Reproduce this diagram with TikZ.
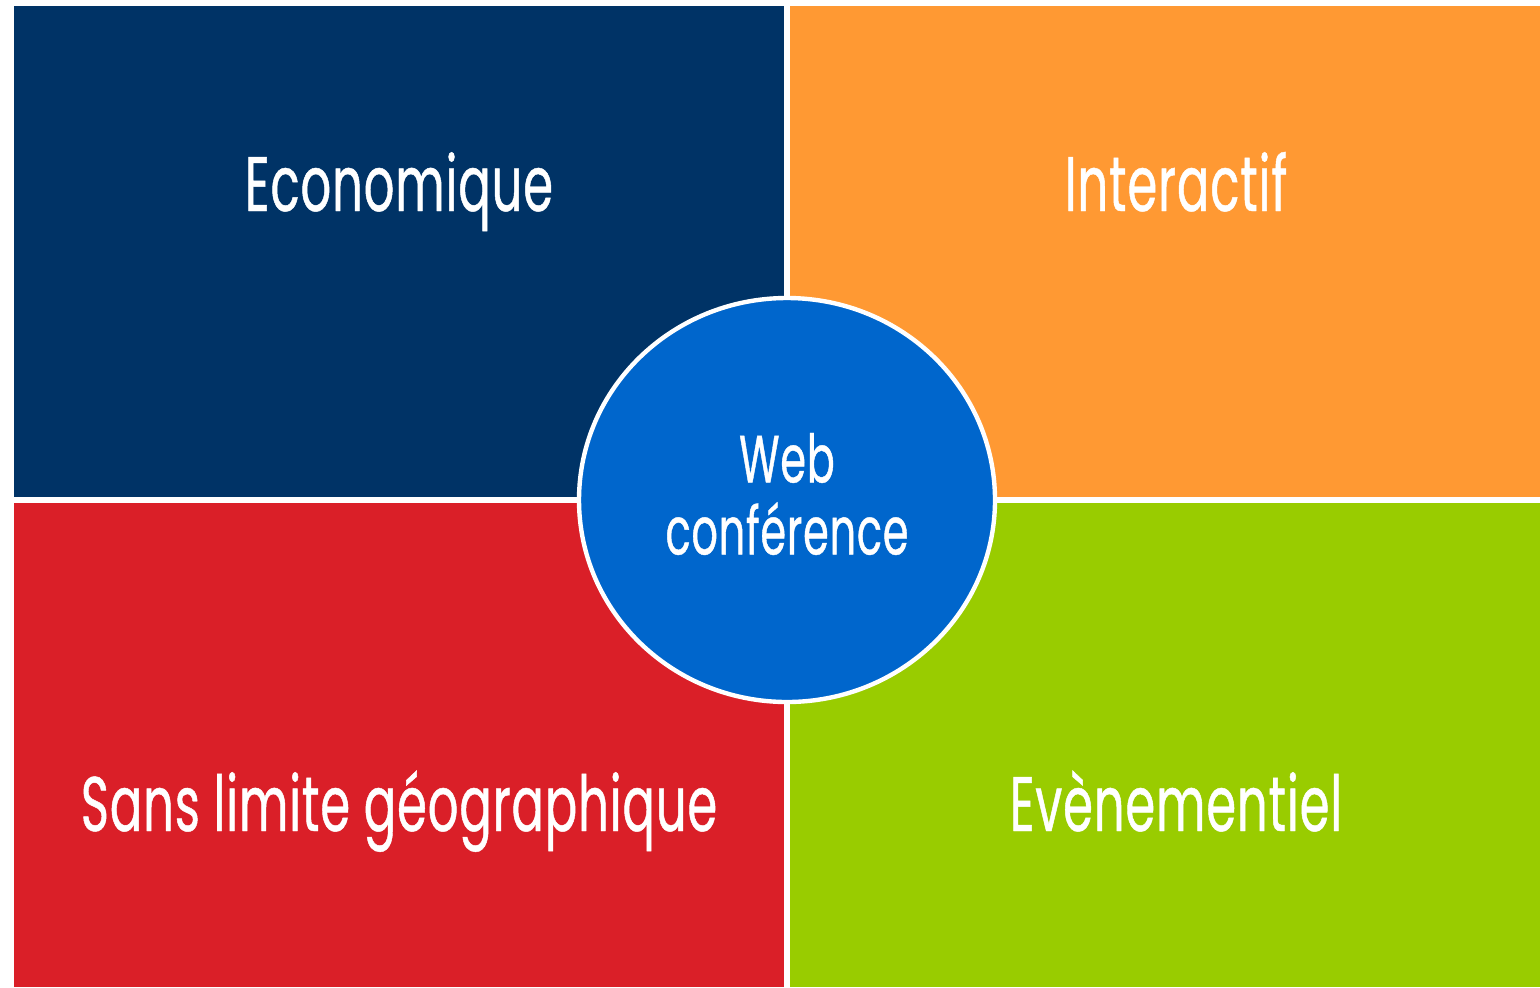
\documentclass[tikz,border=0pt]{standalone}
\usepackage{fontspec}
\usepackage{xcolor}
\setmainfont[FakeStretch=0.62,FakeBold=0.6,LetterSpace=1.2]{Poppins}

\definecolor{navy}{HTML}{003366}
\definecolor{orangeq}{HTML}{FF9933}
\definecolor{redq}{HTML}{DA1F28}
\definecolor{greenq}{HTML}{99CC00}
\definecolor{blueq}{HTML}{0066CC}

\begin{document}
\begin{tikzpicture}[x=0.02cm,y=-0.02cm]
\tikzset{quad/.style={white,font=\fontsize{44}{46}\selectfont,anchor=base}}
\useasboundingbox (0,0) rectangle (1540,987);
\fill[navy] (14,6) rectangle (784,497);
\fill[orangeq] (790,6) rectangle (1540,497);
\fill[redq] (14,503) rectangle (784,987);
\fill[greenq] (790,503) rectangle (1540,987);
\node[quad] (eco) at (399,211) {Economique};
\node[quad] (inter) at (1176,211) {Interactif};
\node[quad] (geo) at (399,831) {Sans limite géographique};
\node[quad] (event) at (1176,831) {Evènementiel};
\filldraw[fill=blueq,draw=white,line width=2.5pt] (787,500) ellipse [x radius=208,y radius=202];
\node[white,align=center,font=\fontsize{38}{41}\selectfont] (web) at (787,494) {Web\\conférence};
\end{tikzpicture}
\end{document}
